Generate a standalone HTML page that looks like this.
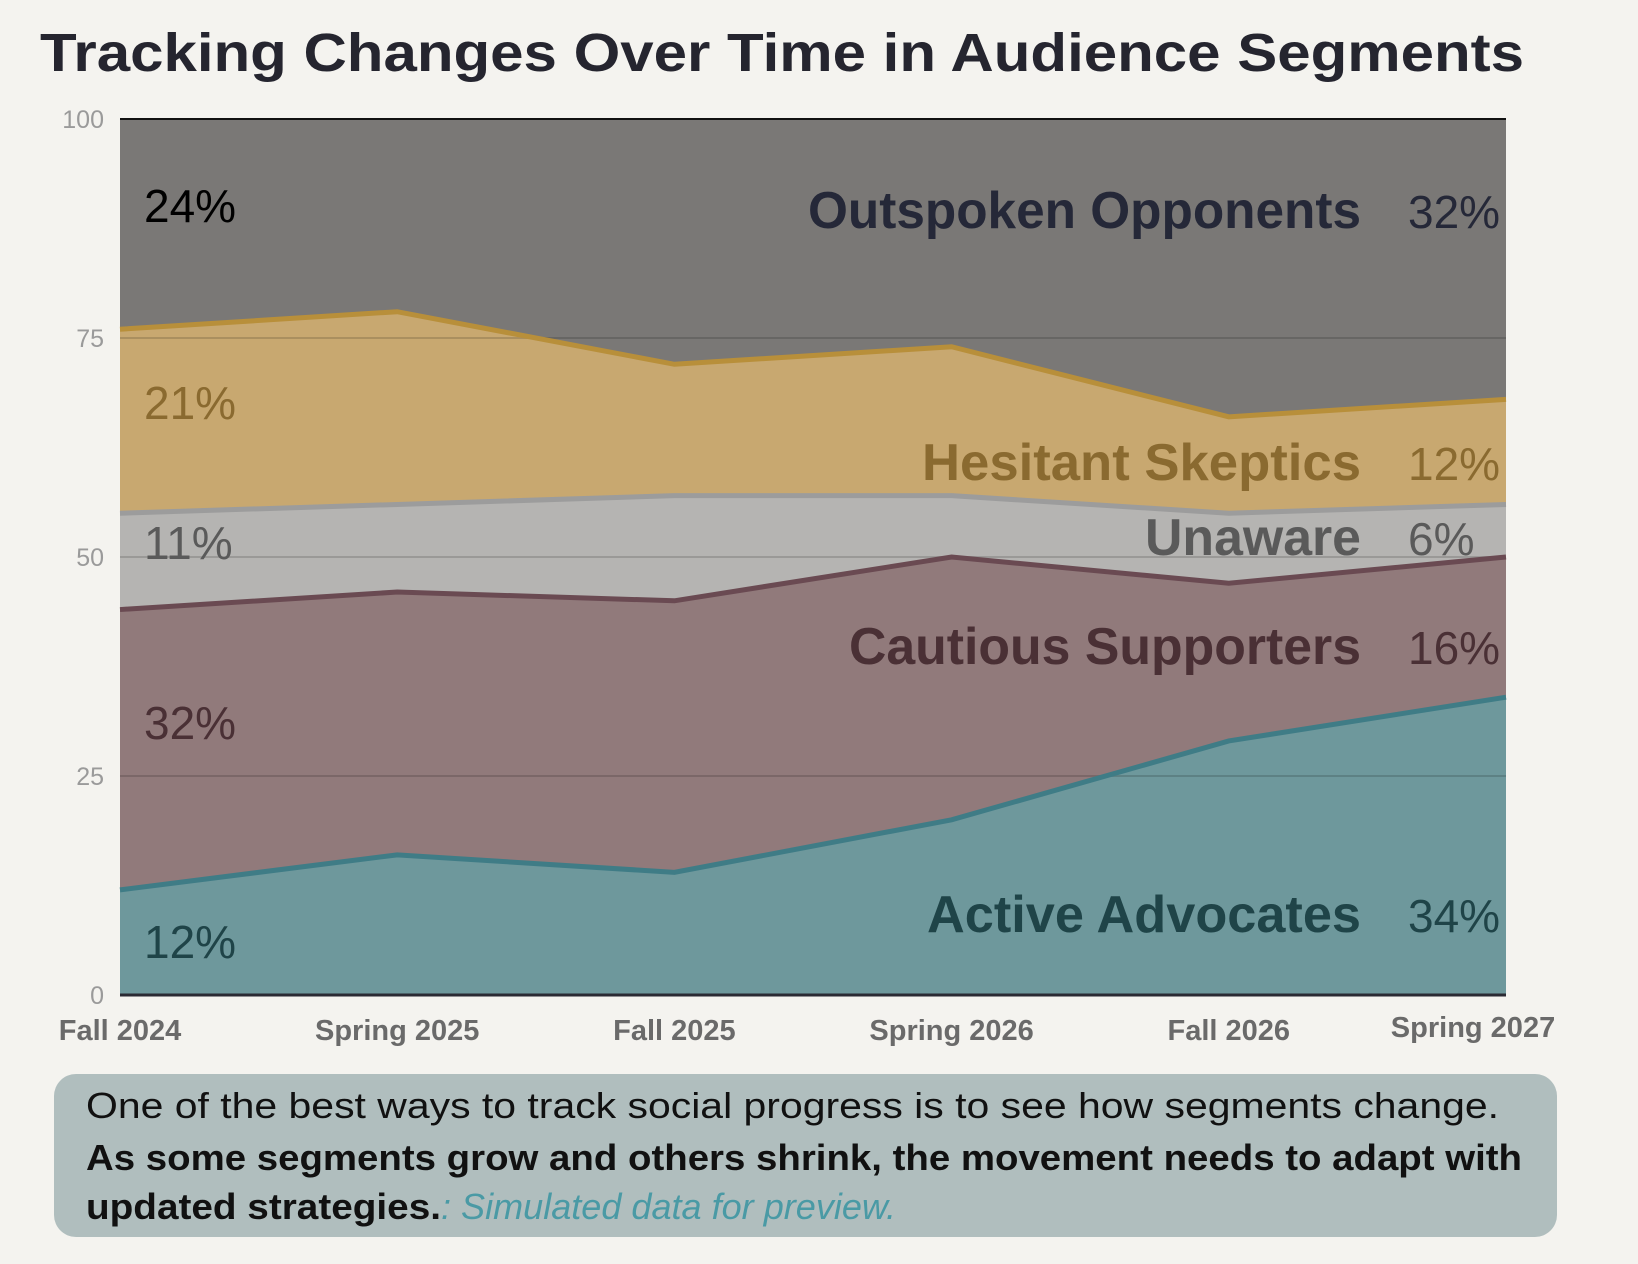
<!DOCTYPE html>
<html><head><meta charset="utf-8"><style>
body{margin:0;background:#f4f3ef;width:1638px;height:1264px;overflow:hidden;font-family:"Liberation Sans",sans-serif}
</style></head><body>
<div style="position:absolute;left:54px;top:1074px;width:1503px;height:163px;background:#b0bebe;border-radius:22px"></div>
<svg id="chart" width="1638" height="1264" xmlns="http://www.w3.org/2000/svg" style="position:absolute;left:0;top:0">
<text x="40" y="71" font-size="54" font-weight="bold" fill="#25252f" textLength="1484" lengthAdjust="spacingAndGlyphs">Tracking Changes Over Time in Audience Segments</text>
<g id="areas"></g><g id="grid"></g><g id="lines"></g><g id="labels"></g><g id="axes"></g>
<g font-size="36" fill="#111">
<text x="86" y="1118" textLength="1413" lengthAdjust="spacingAndGlyphs">One of the best ways to track social progress is to see how segments change.</text>
<text x="86" y="1170" font-weight="bold" textLength="1436" lengthAdjust="spacingAndGlyphs">As some segments grow and others shrink, the movement needs to adapt with</text>
<text x="86" y="1219"><tspan font-weight="bold" textLength="355" lengthAdjust="spacingAndGlyphs">updated strategies.</tspan><tspan font-style="italic" fill="#4a9aa5" textLength="455" lengthAdjust="spacingAndGlyphs">: Simulated data for preview.</tspan></text>
</g>
</svg>
<script>
const categories=["Fall 2024","Spring 2025","Fall 2025","Spring 2026","Fall 2026","Spring 2027"];
const seriesNames=["Active Advocates","Cautious Supporters","Unaware","Hesitant Skeptics","Outspoken Opponents"];
const active=[12,16,14,20,29,34];
const cautious=[32,30,31,30,18,16];
const unaware=[11,10,12,7,8,6];
const hesitant=[21,22,15,17,11,12];
const opponents=[24,22,28,26,34,32];
const yTicks=[0,25,50,75,100];
const series=[active,cautious,unaware,hesitant,opponents];
const fills=["#6e989c","#917a7b","#b5b4b2","#c8a870","#7a7876"];
const strokes=["#3f7c86","#6a4a52","#9c9c9c","#b88f3a",null];
const textCols=["#1f4448","#4a3035","#5a5a5a","#8a6a30","#252838"];
const leftCols=["#1f4448","#4a3035","#5a5a5a","#8a6a30","#000"];
const labelY=[932,664,555,480,228];
const labelW=[434,512,216,439,553];
const leftY=[958,739,559,419,222];
const X0=120,X1=1506,Y0=995,Y1=119;
const x=i=>X0+(X1-X0)*i/(categories.length-1);
const y=v=>Y0-(Y0-Y1)*v/100;
const NS="http://www.w3.org/2000/svg";
function mk(t,a,p){const e=document.createElementNS(NS,t);for(const k in a)e.setAttribute(k,a[k]);p.appendChild(e);return e;}
const gA=document.getElementById('areas'),gG=document.getElementById('grid'),gL=document.getElementById('lines'),gT=document.getElementById('labels'),gX=document.getElementById('axes');
let base=categories.map(()=>0);
series.forEach((s,k)=>{
  const top=s.map((v,i)=>base[i]+v);
  let pts=top.map((v,i)=>x(i)+","+y(v));
  let bot=base.map((v,i)=>x(i)+","+y(v)).reverse();
  const p=mk('polygon',{points:pts.concat(bot).join(' '),fill:fills[k]},gA);
  
  
  if(strokes[k]){
    const l=mk('polyline',{points:pts.join(' '),fill:'none',stroke:strokes[k],'stroke-width':5},gL);
    
    
  }
  const n=s.length-1;
  const lab=mk('text',{x:1361-labelW[k],y:labelY[k],'font-size':52,'font-weight':'bold',fill:textCols[k],textLength:labelW[k],lengthAdjust:'spacingAndGlyphs'},gT);
  lab.textContent=seriesNames[k];
  
  
  const pr=mk('text',{x:1408,y:labelY[k],'font-size':46,fill:textCols[k]},gT);
  pr.textContent=s[n]+"%";
  
  
  const pl=mk('text',{x:144,y:leftY[k],'font-size':46,fill:leftCols[k]},gT);
  pl.textContent=s[0]+"%";
  
  
  base=top;
});
yTicks.forEach(t=>{
  if(t>0&&t<100){const g=mk('line',{x1:X0,x2:X1,y1:y(t),y2:y(t),stroke:'rgba(0,0,0,0.15)','stroke-width':2},gG);
  
  }
  const tl=mk('text',{x:104,y:y(t)+9,'text-anchor':'end','font-size':25,fill:'#9a9a9a'},gX);
  tl.textContent=t;
  
  
});
const ta=mk('line',{x1:X0,x2:X1,y1:Y1,y2:Y1,stroke:'#111','stroke-width':2},gX);


const xa=mk('line',{x1:X0,x2:X1,y1:Y0,y2:Y0,stroke:'#2a2a33','stroke-width':3},gX);


categories.forEach((c,i)=>{
  const last=i===categories.length-1;
  const t=mk('text',{x:last?1473:x(i),y:last?1037:1040,'text-anchor':'middle','font-size':29,'font-weight':'bold',fill:'#6a6a6a'},gX);
  t.textContent=c;
  
  
});
</script>
</body></html>
